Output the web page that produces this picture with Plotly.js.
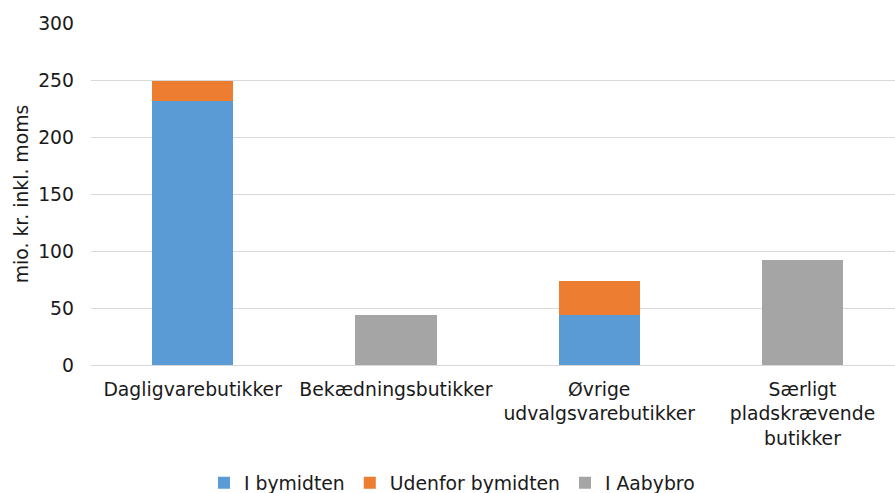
<!DOCTYPE html>
<html>
<head>
<meta charset="utf-8">
<script src="https://cdn.plot.ly/plotly-3.0.1.min.js"></script>
<style>html,body{margin:0;padding:0;background:#fff;}#chart{width:895px;height:493px;}</style>
</head>
<body>
<div id="chart"></div>
<script>
const categories = ["Dagligvarebutikker", "Bekædningsbutikker", "Øvrige<br>udvalgsvarebutikker", "Særligt<br>pladskrævende<br>butikker"];
const seriesNames = ["I bymidten", "Udenfor bymidten", "I Aabybro"];
const iBymidten = [232, null, 44, null];
const udenforBymidten = [17, null, 29.5, null];
const iAabybro = [null, 44, null, 92];
const yTickVals = [0, 50, 100, 150, 200, 250, 300];

const colors = ["#5B9BD5", "#ED7D31", "#A5A5A5"];
const font = {family: "DejaVu Sans, Verdana, sans-serif", size: 18.8, color: "#1a1a1a"};

const values = [iBymidten, udenforBymidten, iAabybro];
const traces = values.map((v, i) => ({
  type: "bar",
  name: seriesNames[i],
  x: categories,
  y: v,
  width: 0.4,
  marker: {color: colors[i], line: {width: 0}},
  hoverinfo: "skip"
}));

const layout = {
  width: 895,
  height: 493,
  barmode: "stack",
  paper_bgcolor: "#fff",
  plot_bgcolor: "#fff",
  font: font,
  margin: {l: 91, r: 0, t: 23, b: 128, pad: 0},
  showlegend: true,
  legend: {
    orientation: "h",
    xref: "container",
    yref: "container",
    x: 0.505,
    xanchor: "center",
    y: 0.02,
    yanchor: "middle",
    font: font,
    itemwidth: 30,
    traceorder: "normal"
  },
  xaxis: {
    type: "category",
    range: [-0.5, 3.455],
    showgrid: false,
    zeroline: false,
    showline: false,
    ticks: "",
    ticklabelstandoff: 11,
    tickfont: font,
    automargin: false
  },
  yaxis: {
    range: [0, 300],
    tickvals: yTickVals,
    ticktext: yTickVals.map(String),
    showgrid: true,
    gridcolor: "#D9D9D9",
    gridwidth: 1,
    zeroline: true,
    zerolinecolor: "#D9D9D9",
    zerolinewidth: 1,
    showline: false,
    ticks: "",
    ticklabelstandoff: 16,
    tickfont: font,
    automargin: false,
    title: {text: "mio. kr. inkl. moms", font: font, standoff: 4}
  }
};

Plotly.newPlot("chart", traces, layout, {staticPlot: true, displayModeBar: false});
</script>
</body>
</html>
